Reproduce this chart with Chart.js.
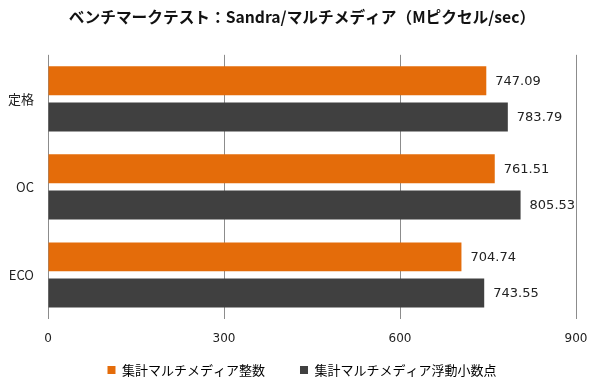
<!DOCTYPE html>
<html><head><meta charset="utf-8">
<script src="https://cdn.jsdelivr.net/npm/chart.js@4/dist/chart.umd.min.js"></script>
<style>html,body{margin:0;padding:0;background:#fff}#wrap{width:600px;height:390px}</style>
</head><body><div id="wrap"><canvas id="c"></canvas></div>
<script>
const titleText = 'ベンチマークテスト：Sandra/マルチメディア（Mピクセル/sec）';
const categories = ['定格', 'OC', 'ECO'];
const seriesNames = ['集計マルチメディア整数', '集計マルチメディア浮動小数点'];
const integerValues = [747.09, 761.51, 704.74];
const floatValues = [783.79, 805.53, 743.55];
const xTicks = [0, 300, 600, 900];

const labelPlugin = {
  id: 'barLabels',
  afterDatasetsDraw(chart) {
    const ctx = chart.ctx;
    ctx.save();
    ctx.font = '13px "DejaVu Sans", Verdana, sans-serif';
    ctx.fillStyle = '#222';
    ctx.textAlign = 'left';
    ctx.textBaseline = 'middle';
    chart.data.datasets.forEach((ds, i) => {
      chart.getDatasetMeta(i).data.forEach((bar, j) => {
        ctx.fillText(ds.data[j].toFixed(2), bar.x + 9, bar.y + 1);
      });
    });
    ctx.restore();
  }
};

new Chart(document.getElementById('c'), {
  type: 'bar',
  data: {
    labels: categories,
    datasets: [
      { label: seriesNames[0], data: integerValues, backgroundColor: '#E46C0A' },
      { label: seriesNames[1], data: floatValues, backgroundColor: '#404040' }
    ]
  },
  options: {
    indexAxis: 'y',
    responsive: true,
    maintainAspectRatio: false,
    animation: false,
    layout: { padding: { left: 4, right: 0, top: 6, bottom: 3.5 } },
    datasets: { bar: { categoryPercentage: 0.822, barPercentage: 0.8 } },
    scales: {
      x: {
        min: 0, max: 900,
        afterBuildTicks(scale) { scale.ticks = xTicks.map(v => ({ value: v })); },
        afterFit(scale) { scale.height = 9.5; },
        grid: { color: '#8c8c8c', lineWidth: 1, drawTicks: false },
        border: { display: false },
        ticks: { mirror: true, padding: -27.5, color: '#222', font: { family: '"DejaVu Sans", Verdana, sans-serif', size: 12 } }
      },
      y: {
        afterFit(scale) { scale.width = 44; },
        grid: { display: false, drawTicks: false },
        border: { display: false },
        ticks: { padding: 14, color: '#222', font: { family: '"Noto Sans CJK JP", sans-serif', size: 13 } }
      },
      yRight: {
        type: 'linear', position: 'right', min: 0, max: 1,
        afterFit(scale) { scale.width = 24; },
        grid: { display: false, drawTicks: false },
        border: { display: false },
        ticks: { display: false }
      }
    },
    plugins: {
      title: {
        display: true, text: titleText, color: '#111',
        font: { family: '"Noto Sans CJK JP", sans-serif', size: 15.7, weight: 'bold' },
        padding: { top: 2, bottom: 28 }
      },
      legend: {
        position: 'bottom',
        labels: {
          boxWidth: 8, boxHeight: 8, padding: 35, color: '#222',
          font: { family: '"Noto Sans CJK JP", sans-serif', size: 13 },
          generateLabels(chart) {
            return chart.data.datasets.map((ds, i) => ({
              text: ds.label, fillStyle: ds.backgroundColor, strokeStyle: ds.backgroundColor,
              lineWidth: 0, datasetIndex: i, hidden: false
            }));
          }
        }
      },
      tooltip: { enabled: false }
    }
  },
  plugins: [labelPlugin]
});
</script></body></html>
